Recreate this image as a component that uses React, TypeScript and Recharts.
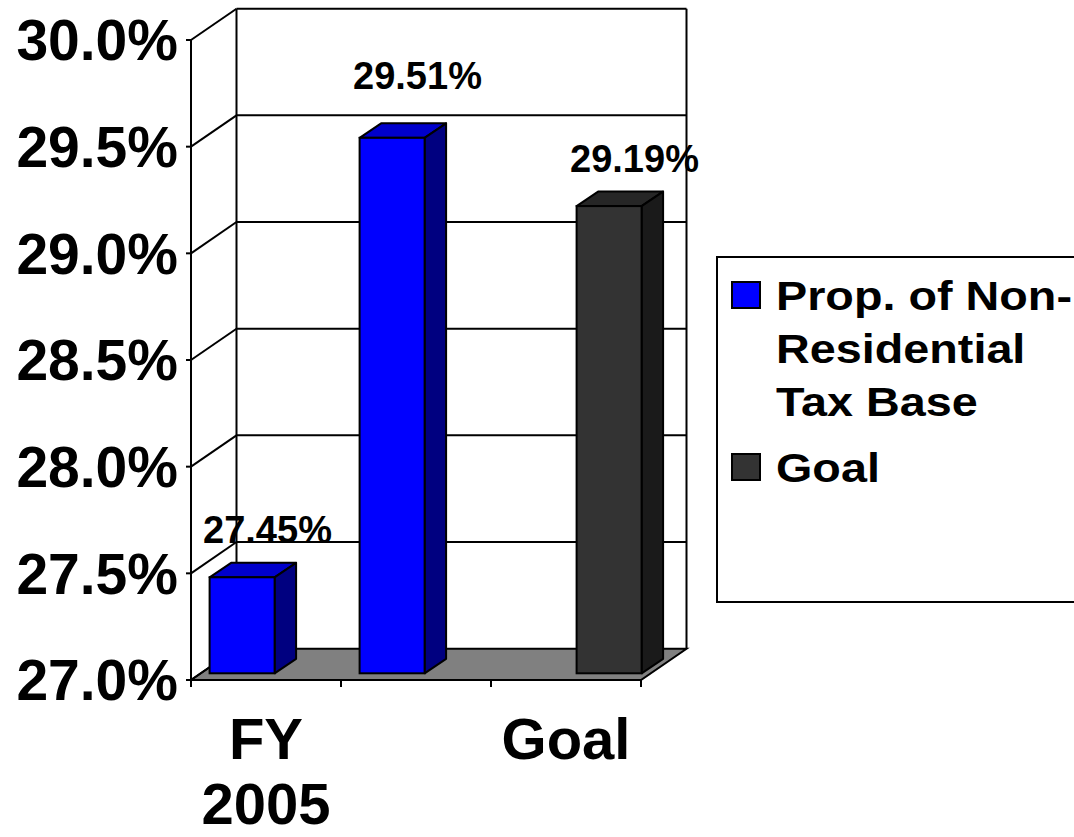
import React from 'react';
import { BarChart, Bar, XAxis, YAxis, CartesianGrid, Legend, LabelList } from 'recharts';

// chart values
const categories = ['FY 2005', '', 'Goal'];
const propValues = [27.45, 29.51, null];
const goalValues = [null, null, 29.19];
const yTicks = [27, 27.5, 28, 28.5, 29, 29.5, 30];

const PROP_NAME = 'Prop. of Non-Residential Tax Base';
const GOAL_NAME = 'Goal';
const LEGEND_ORDER = [PROP_NAME, GOAL_NAME];

const data = categories.map((name, i) => ({ name, prop: propValues[i], goal: goalValues[i] }));

// layout / look
const WIDTH = 1074;
const HEIGHT = 837;
const PLOT = { left: 191, right: 641, top: 40, bottom: 680 };
const WALL = { dx: 45.5, dy: -31.3 };
const BAR_SHIFT = { dx: 9.6, dy: -6.7 };
const BAR_DEPTH = { dx: 21.5, dy: -14.5 };
const BAND = (PLOT.right - PLOT.left) / categories.length;
const LABEL_LIFT = [41, 56, 46];
const FONT = '"Liberation Sans", Arial, Helvetica, sans-serif';

const COLORS = {
  prop: { front: '#0000FF', top: '#0000CC', side: '#000080' },
  goal: { front: '#333333', top: '#262626', side: '#1A1A1A' },
};

const makeBar3D = (c: { front: string; top: string; side: string }) => (props: any) => {
  const { x, y, width, height } = props;
  if (height == null || !(height > 0) || props.value == null) return <g />;
  const fx = x + BAR_SHIFT.dx;
  const fy = y + BAR_SHIFT.dy;
  const { dx, dy } = BAR_DEPTH;
  return (
    <g>
      <polygon
        points={`${fx},${fy} ${fx + dx},${fy + dy} ${fx + width + dx},${fy + dy} ${fx + width},${fy}`}
        fill={c.top}
        stroke="#000"
        strokeWidth={2}
        strokeLinejoin="round"
      />
      <polygon
        points={`${fx + width},${fy} ${fx + width + dx},${fy + dy} ${fx + width + dx},${fy + height + dy} ${fx + width},${fy + height}`}
        fill={c.side}
        stroke="#000"
        strokeWidth={2}
        strokeLinejoin="round"
      />
      <rect x={fx} y={fy} width={width} height={height} fill={c.front} stroke="#000" strokeWidth={2} />
    </g>
  );
};

const renderValueLabel = (props: any) => {
  const vb = props.viewBox || {};
  const x = props.x ?? vb.x;
  const y = props.y ?? vb.y;
  const width = props.width ?? vb.width;
  const { value } = props;
  if (value == null || x == null) return null;
  let index = props.index;
  if (index == null && props.payload) index = categories.indexOf(props.payload.name);
  const lift = LABEL_LIFT[index ?? 0] ?? 44;
  return (
    <text
      x={x + width / 2 + 35}
      y={y - lift}
      textAnchor="middle"
      fill="#000"
      fontFamily={FONT}
      fontWeight={700}
      fontSize={38}
    >
      {`${Number(value).toFixed(2)}%`}
    </text>
  );
};

// back wall, left wall and floor, hung on the horizontal grid lines
const renderWallLine = (props: any) => {
  const { x1, y1, x2, key } = props;
  const top = props.y ?? PLOT.top;
  const bottom = props.height != null ? top + props.height : PLOT.bottom;
  const isBottom = Math.abs(y1 - bottom) < 0.5;
  const isTop = Math.abs(y1 - top) < 0.5;
  const bx1 = x1 + WALL.dx;
  const bx2 = x2 + WALL.dx;
  const by = y1 + WALL.dy;
  return (
    <g key={key}>
      {isBottom && (
        <polygon
          points={`${x1},${y1} ${x2},${y1} ${bx2},${by} ${bx1},${by}`}
          fill="#808080"
          stroke="#000"
          strokeWidth={2}
        />
      )}
      {!isBottom && <line x1={bx1} y1={by} x2={bx2} y2={by} stroke="#000" strokeWidth={2} />}
      <line x1={x1} y1={y1} x2={bx1} y2={by} stroke="#000" strokeWidth={2} />
      {isTop && (
        <>
          <line x1={bx1} y1={by} x2={bx1} y2={bottom + WALL.dy} stroke="#000" strokeWidth={2} />
          <line x1={bx2} y1={by} x2={bx2} y2={bottom + WALL.dy} stroke="#000" strokeWidth={2} />
        </>
      )}
    </g>
  );
};

const renderCategoryTick = (props: any) => {
  const { x, index, payload } = props;
  const words = String(payload.value).split(' ').filter(Boolean);
  const y0 = PLOT.bottom;
  return (
    <g>
      <line x1={x - BAND / 2} y1={y0} x2={x - BAND / 2} y2={y0 + 7} stroke="#000" strokeWidth={2} />
      {index === categories.length - 1 && (
        <line x1={x + BAND / 2} y1={y0} x2={x + BAND / 2} y2={y0 + 7} stroke="#000" strokeWidth={2} />
      )}
      <text x={x} y={y0 + 79} textAnchor="middle" fill="#000" fontFamily={FONT} fontWeight={700} fontSize={58}>
        {words.map((w, i) => (
          <tspan key={i} x={x} dy={i === 0 ? 0 : 65}>
            {w}
          </tspan>
        ))}
      </text>
    </g>
  );
};

const renderLegend = (props: any) => {
  const items = [...(props.payload || [])].sort(
    (a: any, b: any) => LEGEND_ORDER.indexOf(a.value) - LEGEND_ORDER.indexOf(b.value)
  );
  return (
    <div
      style={{
        border: '2px solid #000',
        width: 420,
        height: 347,
        boxSizing: 'border-box',
        padding: '12px 0 0 13px',
        background: '#fff',
        fontFamily: FONT,
        fontWeight: 700,
        fontSize: 41,
        lineHeight: '53px',
        color: '#000',
        textAlign: 'left',
      }}
    >
      {items.map((item: any, i: number) => (
        <div key={i} style={{ display: 'flex', alignItems: 'flex-start', marginTop: i ? 13 : 0 }}>
          <span
            style={{
              width: 30,
              height: 28,
              marginTop: 11,
              background: item.color,
              border: '2px solid #000',
              boxSizing: 'border-box',
              flex: 'none',
            }}
          />
          <span
            style={{
              marginLeft: 15,
              width: 262,
              display: 'inline-block',
              transform: 'scaleX(1.14)',
              transformOrigin: 'left top',
            }}
          >
            {item.value}
          </span>
        </div>
      ))}
    </div>
  );
};

const App: React.FC = () => (
  <div style={{ position: 'absolute', left: 0, top: 0, width: WIDTH, height: HEIGHT, overflow: 'hidden', background: '#fff' }}>
    <BarChart
      width={WIDTH}
      height={HEIGHT}
      data={data}
      margin={{ top: PLOT.top, right: WIDTH - PLOT.right, bottom: 7, left: 11 }}
      barCategoryGap={9}
      barGap={2}
      style={{ fontFamily: FONT }}
    >
      <CartesianGrid horizontal={renderWallLine} vertical={false} stroke="#000" />
      <XAxis
        dataKey="name"
        height={150}
        interval={0}
        tickLine={false}
        axisLine={{ stroke: '#000', strokeWidth: 2 }}
        tick={renderCategoryTick}
      />
      <YAxis
        width={180}
        domain={[27, 30]}
        ticks={yTicks}
        allowDataOverflow
        tickFormatter={(v: number) => `${v.toFixed(1)}%`}
        axisLine={{ stroke: '#000', strokeWidth: 2 }}
        tickLine={{ stroke: '#000', strokeWidth: 2 }}
        tickSize={5}
        tickMargin={8}
        tick={{ fill: '#000', fontSize: 57, fontWeight: 700, fontFamily: FONT }}
      />
      <Legend
        layout="horizontal"
        verticalAlign="middle"
        align="center"
        content={renderLegend}
        wrapperStyle={{ left: 716, top: 256, width: 420 }}
      />
      <Bar dataKey="prop" name={PROP_NAME} fill={COLORS.prop.front} shape={makeBar3D(COLORS.prop)} isAnimationActive={false}>
        <LabelList dataKey="prop" content={renderValueLabel} />
      </Bar>
      <Bar dataKey="goal" name={GOAL_NAME} fill={COLORS.goal.front} shape={makeBar3D(COLORS.goal)} isAnimationActive={false}>
        <LabelList dataKey="goal" content={renderValueLabel} />
      </Bar>
    </BarChart>
  </div>
);

export default App;
